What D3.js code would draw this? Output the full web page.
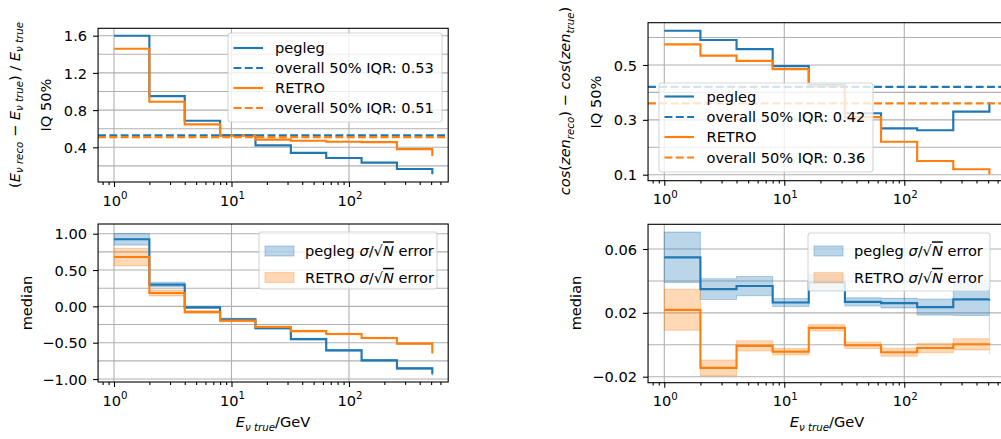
<!DOCTYPE html>
<html><head><meta charset="utf-8">
<script src="https://cdn.jsdelivr.net/npm/d3@7"></script>
<style>
html,body{margin:0;padding:0;background:#fff;overflow:hidden}
svg{display:block;font-family:"DejaVu Sans",sans-serif}
</style></head><body>
<svg id="fig" width="1001" height="439"></svg>
<script>
// Bin edges in true neutrino energy (GeV); each series has one value per edge (step "post")
const edges = [1, 2, 4, 8, 16, 32, 64, 128, 256, 512];

// Energy resolution: 50% inter-quantile range per bin
const energyIqrPegleg = [1.60, 0.95, 0.686, 0.53, 0.42, 0.34, 0.285, 0.235, 0.167, 0.11];
const energyIqrRetro  = [1.46, 0.89, 0.647, 0.525, 0.482, 0.47, 0.46, 0.455, 0.38, 0.306];
const energyIqrOverall = [0.53, 0.51];          // pegleg, RETRO

// Energy bias: median per bin with sigma/sqrt(N) error
const energyMedPegleg = [0.923, 0.30, -0.013, -0.178, -0.30, -0.45, -0.605, -0.743, -0.853, -0.935];
const energyErrPegleg = [0.08, 0.03, 0.015, 0.012, 0.01, 0.01, 0.01, 0.01, 0.012, 0.02];
const energyMedRetro  = [0.68, 0.184, -0.078, -0.197, -0.284, -0.34, -0.38, -0.435, -0.513, -0.646];
const energyErrRetro  = [0.12, 0.04, 0.02, 0.015, 0.012, 0.01, 0.01, 0.01, 0.012, 0.02];

// Zenith resolution: 50% inter-quantile range of cos(zen) difference
const zenIqrPegleg = [0.625, 0.591, 0.558, 0.496, 0.428, 0.324, 0.269, 0.262, 0.33, 0.364];
const zenIqrRetro  = [0.575, 0.534, 0.515, 0.485, 0.423, 0.31, 0.22, 0.15, 0.12, 0.102];
const zenIqrOverall = [0.42, 0.36];             // pegleg, RETRO

// Zenith bias: median per bin with sigma/sqrt(N) error
const zenMedPegleg = [0.0548, 0.0349, 0.0368, 0.0265, 0.039, 0.0269, 0.0261, 0.0236, 0.0284, 0.0286];
const zenErrPegleg = [0.0158, 0.0065, 0.006, 0.0025, 0.005, 0.0025, 0.003, 0.005, 0.01, 0.0205];
const zenMedRetro  = [0.0219, -0.0145, -0.0007, -0.0043, 0.0106, -0.0003, -0.0047, -0.002, 0.0003, 0.0008];
const zenErrRetro  = [0.0128, 0.005, 0.0032, 0.002, 0.002, 0.002, 0.0025, 0.003, 0.0035, 0.007];

// Axis ticks
const xMajorTicks = [1, 10, 100];
const xMinorTicks = [0.8, 0.9, 2, 3, 4, 5, 6, 7, 8, 9, 20, 30, 40, 50, 60, 70, 80, 90, 200, 300, 400, 500, 600];
const energyIqrTicks = [0.4, 0.8, 1.2, 1.6];
const energyIqrGrid  = [0.2, 0.4, 0.6, 0.8, 1.0, 1.2, 1.4, 1.6];
const energyMedTicks = [-1, -0.5, 0, 0.5, 1];
const energyMedGrid  = [-1, -0.75, -0.5, -0.25, 0, 0.25, 0.5, 0.75, 1];
const zenIqrTicks = [0.1, 0.3, 0.5];
const zenIqrGrid  = [0.1, 0.2, 0.3, 0.4, 0.5, 0.6];
const zenMedTicks = [-0.02, 0.02, 0.06];
const zenMedGrid  = [-0.02, 0, 0.02, 0.04, 0.06];

const C0 = "#1f77b4", C1 = "#ff7f0e";
const FS = 14.6;
const LW = 2.15;
const DASH = "7.9,3.4";
const svg = d3.select("#fig");
const xDomain = [Math.pow(10, -0.1355), Math.pow(10, 2.8444)];
const minus = s => s.replace(/-/g, "\u2212");

// Text with italic / sub / superscript runs
function richText(parent, segs, size) {
  const t = parent.append("text").attr("font-size", size).attr("fill", "#000");
  let shift = 0;
  segs.forEach(s => {
    const target = s.sub ? size * 0.24 : (s.sup ? -size * 0.42 : 0);
    const ts = t.append("tspan").text(s.t);
    if (target !== shift) { ts.attr("dy", target - shift); shift = target; }
    if (s.it) ts.attr("font-style", "italic");
    if (s.sub || s.sup) ts.attr("font-size", size * 0.7);
    if (s.over) ts.attr("text-decoration", "overline");
  });
  return t;
}

let clipId = 0;
function panel(cfg) {
  const x = d3.scaleLog().domain(xDomain).range([cfg.x0, cfg.x1]);
  const y = d3.scaleLinear().domain(cfg.yDomain).range([cfg.y1, cfg.y0]);
  const g = svg.append("g");
  const id = "clip" + (clipId++);
  svg.append("clipPath").attr("id", id).append("rect")
    .attr("x", cfg.x0).attr("y", cfg.y0).attr("width", cfg.x1 - cfg.x0).attr("height", cfg.y1 - cfg.y0);

  // grid
  const grid = g.append("g").attr("stroke", "#b0b0b0").attr("stroke-width", 1.1);
  xMajorTicks.forEach(v => grid.append("line").attr("x1", x(v)).attr("x2", x(v)).attr("y1", cfg.y0).attr("y2", cfg.y1));
  cfg.grid.forEach(v => grid.append("line").attr("x1", cfg.x0).attr("x2", cfg.x1).attr("y1", y(v)).attr("y2", y(v)));

  const plot = g.append("g").attr("clip-path", `url(#${id})`);
  const pts = vals => vals.map((v, i) => [edges[i], v]);

  // error bands
  (cfg.bands || []).forEach(b => {
    const area = d3.area().curve(d3.curveStepAfter)
      .x((d, i) => x(edges[i])).y0((d, i) => y(b.med[i] - b.err[i])).y1((d, i) => y(b.med[i] + b.err[i]));
    plot.append("path").attr("d", area(b.med))
      .attr("fill", b.color).attr("fill-opacity", 0.3)
      .attr("stroke", b.color).attr("stroke-opacity", 0.3).attr("stroke-width", 1.1);
  });

  // step lines
  const line = d3.line().curve(d3.curveStepAfter).x(d => x(d[0])).y(d => y(d[1]));
  cfg.lines.forEach(l => {
    plot.append("path").attr("d", line(pts(l.vals))).attr("fill", "none")
      .attr("stroke", l.color).attr("stroke-width", LW);
  });
  // overall horizontal reference lines
  (cfg.hlines || []).forEach(h => {
    plot.append("line").attr("x1", cfg.x0).attr("x2", cfg.x1).attr("y1", y(h.v)).attr("y2", y(h.v))
      .attr("stroke", h.color).attr("stroke-width", LW).attr("stroke-dasharray", DASH);
  });

  // axes: ticks
  const axB = g.append("g").attr("transform", `translate(0,${cfg.y1})`)
    .call(d3.axisBottom(x).tickValues(xMajorTicks).tickSize(5).tickFormat(""));
  const axBm = g.append("g").attr("transform", `translate(0,${cfg.y1})`)
    .call(d3.axisBottom(x).tickValues(xMinorTicks).tickSize(2.9).tickFormat(""));
  const axL = g.append("g").attr("transform", `translate(${cfg.x0},0)`)
    .call(d3.axisLeft(y).tickValues(cfg.ticks).tickSize(5).tickPadding(6).tickFormat(v => minus(d3.format(cfg.fmt)(v))));
  [axB, axBm, axL].forEach(a => {
    a.select(".domain").remove();
    a.selectAll("line").attr("stroke", "#000").attr("stroke-width", 1.1);
  });
  axL.selectAll("text").attr("font-size", FS).attr("font-family", "DejaVu Sans").attr("fill", "#000").attr("dy", "0.35em");

  // x tick labels as powers of ten
  xMajorTicks.forEach(v => {
    const e = Math.round(Math.log10(v));
    richText(g, [{t: "10"}, {t: String(e), sup: true}], FS)
      .attr("x", x(v) + 1).attr("y", cfg.y1 + 23.5).attr("text-anchor", "middle");
  });

  // spines
  g.append("rect").attr("x", cfg.x0).attr("y", cfg.y0).attr("width", cfg.x1 - cfg.x0).attr("height", cfg.y1 - cfg.y0)
    .attr("fill", "none").attr("stroke", "#000").attr("stroke-width", 1.1);
  return {x, y, g};
}

function legendBox(b) {
  svg.append("rect").attr("x", b[0]).attr("y", b[1]).attr("width", b[2] - b[0]).attr("height", b[3] - b[1])
    .attr("rx", 2.9).attr("fill", "#fff").attr("fill-opacity", 0.8)
    .attr("stroke", "#ccc").attr("stroke-opacity", 0.8).attr("stroke-width", 1.1);
}

function lineLegend(box, hx, tx, rows) {
  legendBox(box);
  rows.forEach(r => {
    const l = svg.append("line").attr("x1", hx[0]).attr("x2", hx[1]).attr("y1", r.y).attr("y2", r.y)
      .attr("stroke", r.color).attr("stroke-width", LW);
    if (r.dash) l.attr("stroke-dasharray", DASH);
    svg.append("text").attr("x", tx).attr("y", r.y + 5.3).attr("font-size", FS).text(r.label);
  });
}

function bandLegend(box, hx, tx, rows) {
  legendBox(box);
  rows.forEach(r => {
    svg.append("rect").attr("x", hx[0]).attr("y", r.y - 5).attr("width", hx[1] - hx[0]).attr("height", 10)
      .attr("fill", r.color).attr("fill-opacity", 0.3).attr("stroke", r.color).attr("stroke-opacity", 0.3).attr("stroke-width", 1.1);
    richText(svg, [{t: r.name + " "}, {t: "\u03c3", it: true}, {t: "/\u221a"}, {t: "N", it: true, over: true}, {t: " error"}], FS)
      .attr("x", tx).attr("y", r.y + 5.3);
  });
}

function yLabel(bx, cy, segs) {
  const g = svg.append("g").attr("transform", `translate(${bx},${cy}) rotate(-90)`);
  richText(g, segs, FS).attr("text-anchor", "middle");
}
function xLabel(cx, by) {
  richText(svg, [{t: "E", it: true}, {t: "\u03bd true", it: true, sub: true}, {t: "/GeV"}], FS)
    .attr("x", cx).attr("y", by).attr("text-anchor", "middle");
}

const LX = [98.08, 448.2], RX = [648.04, 1005.6];

// energy resolution
panel({x0: LX[0], x1: LX[1], y0: 28.3, y1: 182, yDomain: [0.0269, 1.6796],
  ticks: energyIqrTicks, grid: energyIqrGrid, fmt: ".1f",
  lines: [{vals: energyIqrPegleg, color: C0}, {vals: energyIqrRetro, color: C1}],
  hlines: [{v: energyIqrOverall[0], color: C0}, {v: energyIqrOverall[1], color: C1}]});
// energy bias
panel({x0: LX[0], x1: LX[1], y0: 224, y1: 382, yDomain: [-1.041, 1.1335],
  ticks: energyMedTicks, grid: energyMedGrid, fmt: ".2f",
  bands: [{med: energyMedPegleg, err: energyErrPegleg, color: C0}, {med: energyMedRetro, err: energyErrRetro, color: C1}],
  lines: [{vals: energyMedPegleg, color: C0}, {vals: energyMedRetro, color: C1}]});
// zenith resolution
panel({x0: RX[0], x1: RX[1], y0: 22.7, y1: 180.7, yDomain: [0.0781, 0.6542],
  ticks: zenIqrTicks, grid: zenIqrGrid, fmt: ".1f",
  lines: [{vals: zenIqrPegleg, color: C0}, {vals: zenIqrRetro, color: C1}],
  hlines: [{v: zenIqrOverall[0], color: C0}, {v: zenIqrOverall[1], color: C1}]});
// zenith bias
panel({x0: RX[0], x1: RX[1], y0: 224.3, y1: 382.7, yDomain: [-0.02376, 0.07548],
  ticks: zenMedTicks, grid: zenMedGrid, fmt: ".2f",
  bands: [{med: zenMedPegleg, err: zenErrPegleg, color: C0}, {med: zenMedRetro, err: zenErrRetro, color: C1}],
  lines: [{vals: zenMedPegleg, color: C0}, {vals: zenMedRetro, color: C1}]});

// legends
lineLegend([228, 33, 442, 122], [233.5, 263], 275, [
  {y: 48, color: C0, label: "pegleg"},
  {y: 68, color: C0, dash: true, label: "overall 50% IQR: " + energyIqrOverall[0].toFixed(2)},
  {y: 88, color: C1, label: "RETRO"},
  {y: 108, color: C1, dash: true, label: "overall 50% IQR: " + energyIqrOverall[1].toFixed(2)}]);
lineLegend([659, 83, 873, 172], [664.5, 694], 706.5, [
  {y: 96.5, color: C0, label: "pegleg"},
  {y: 117, color: C0, dash: true, label: "overall 50% IQR: " + zenIqrOverall[0].toFixed(2)},
  {y: 137, color: C1, label: "RETRO"},
  {y: 157.5, color: C1, dash: true, label: "overall 50% IQR: " + zenIqrOverall[1].toFixed(2)}]);
bandLegend([259, 232, 437, 289], [265, 294], 305, [
  {y: 251, color: C0, name: "pegleg"}, {y: 277.5, color: C1, name: "RETRO"}]);
bandLegend([808, 233, 990, 291], [814, 843], 854, [
  {y: 251, color: C0, name: "pegleg"}, {y: 277.5, color: C1, name: "RETRO"}]);

// axis labels
yLabel(19.5, 105, [{t: "("}, {t: "E", it: true}, {t: "\u03bd reco", it: true, sub: true}, {t: " \u2212 "},
  {t: "E", it: true}, {t: "\u03bd true", it: true, sub: true}, {t: ") / "}, {t: "E", it: true}, {t: "\u03bd true", it: true, sub: true}]);
yLabel(51, 105, [{t: "IQ 50%"}]);
yLabel(32, 303, [{t: "median"}]);
yLabel(570, 101, [{t: "cos", it: true}, {t: "("}, {t: "zen", it: true}, {t: "reco", it: true, sub: true}, {t: ")"},
  {t: " \u2212 "}, {t: "cos", it: true}, {t: "("}, {t: "zen", it: true}, {t: "true", it: true, sub: true}, {t: ")"}]);
yLabel(601, 102, [{t: "IQ 50%"}]);
yLabel(581, 303, [{t: "median"}]);
xLabel(273, 427);
xLabel(827, 427);
</script>
</body></html>
